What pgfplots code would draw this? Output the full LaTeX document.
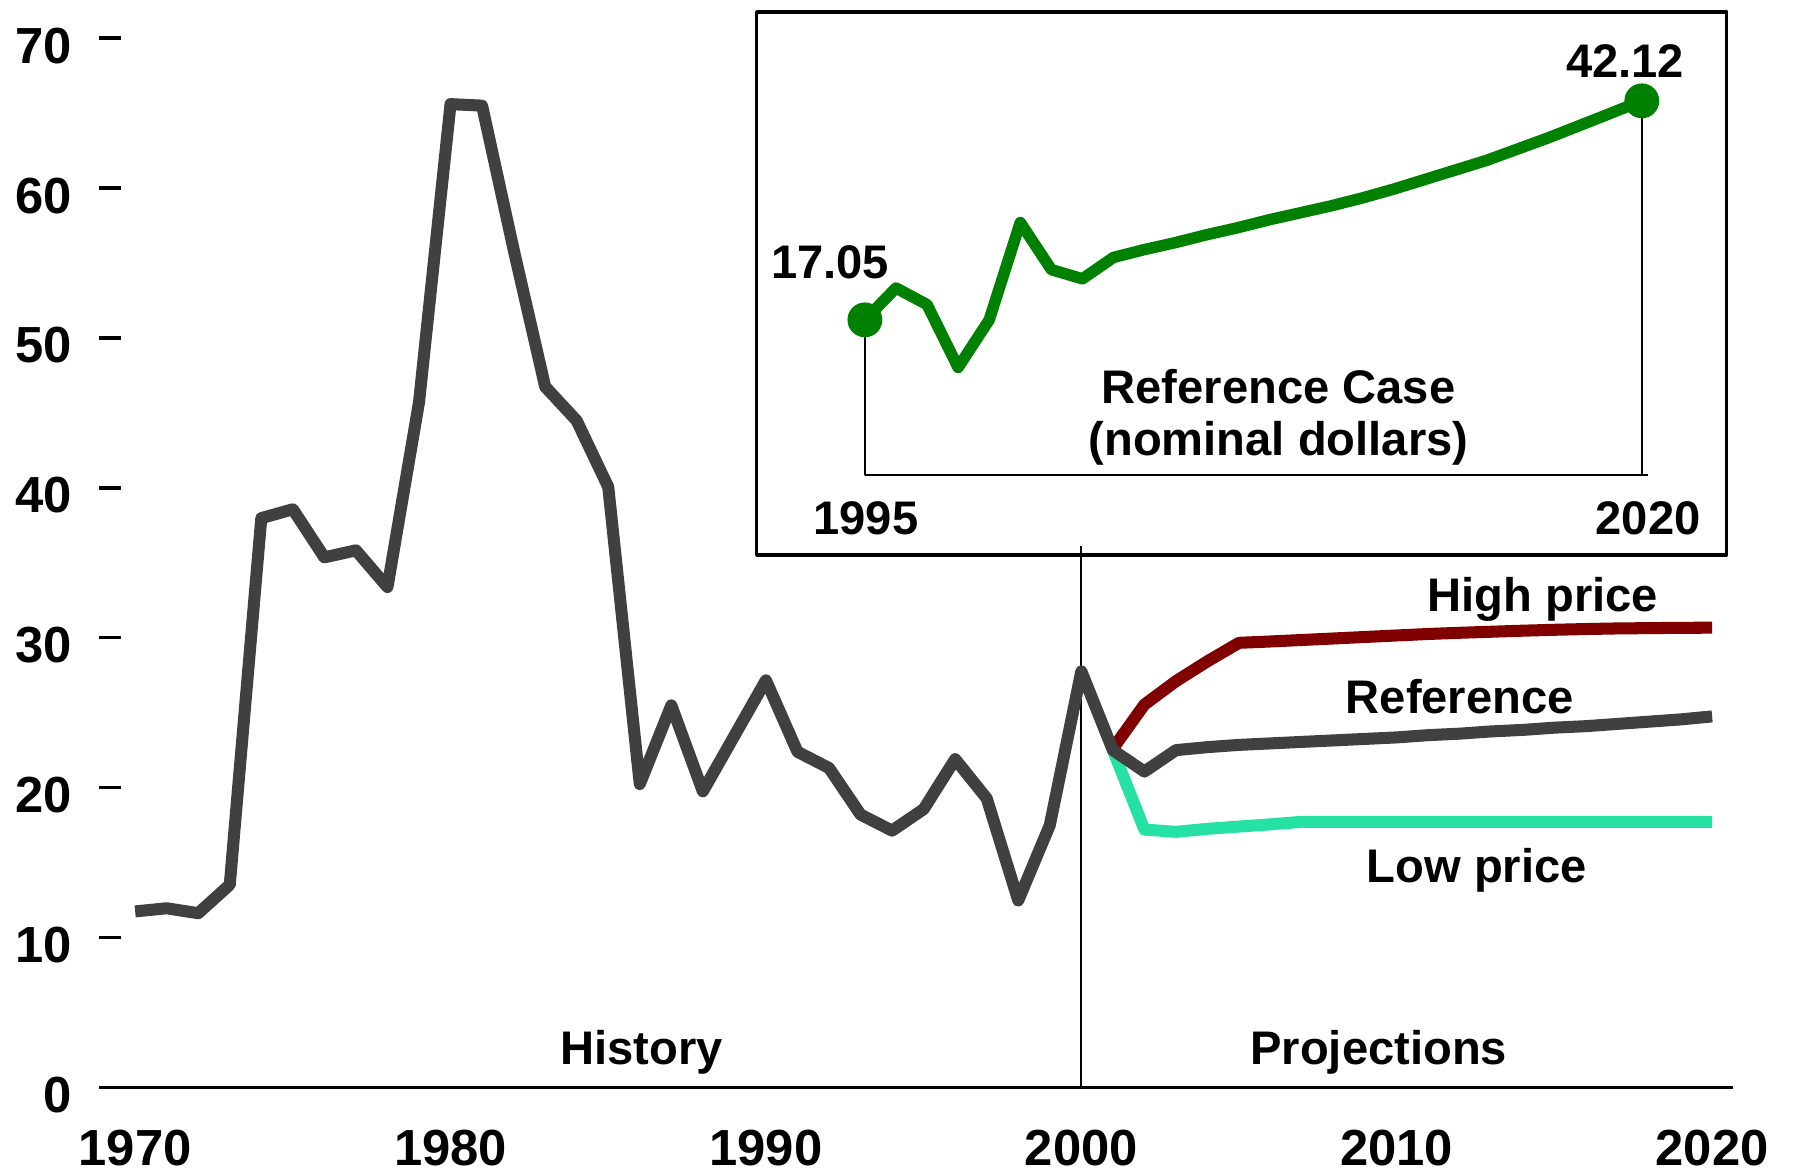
\documentclass[border=0pt]{standalone}
\usepackage{fontspec}
\setmainfont{Liberation Sans}
\usepackage{pgfplots}
\pgfplotsset{compat=1.18}

\definecolor{histgray}{HTML}{404040}
\definecolor{highred}{HTML}{800000}
\definecolor{lowgreen}{HTML}{25E2A4}
\definecolor{refgreen}{HTML}{008000}

\newcommand{\ticksize}{\fontsize{12.6}{14}\selectfont\bfseries}
\newcommand{\notesize}{\fontsize{11.7}{14}\selectfont\bfseries}

\begin{document}
\begin{tikzpicture}
\path[use as bounding box] (-8.6mm,-7.22mm) rectangle (148.2mm,94.88mm);
% main chart
\begin{axis}[
    at={(0,0)}, anchor=south west,
    width=142.58mm, height=91.55mm, scale only axis,
    xmin=1968.84, xmax=2020.65, ymin=0, ymax=70,
    axis x line*=bottom, axis y line*=left,
    x axis line style={-, line width=0.3mm},
    y axis line style={draw=none},
    xtick={1970,1980,...,2020}, ytick={0,10,...,70},
    xtick style={draw=none},
    ytick style={line width=0.3mm, black},
    major tick length=2mm, tick align=inside,
    tick label style={font=\ticksize, inner sep=0pt},
    /pgf/number format/assume math mode=true,
    /pgf/number format/1000 sep={},
    xticklabel style={anchor=base, yshift=-6.82mm},
    yticklabel style={anchor=base east, xshift=-2.26mm, yshift=-2.18mm},
    clip=false,
    line join=round,
]
% divider between history and projections
\addplot[black, line width=0.2mm] coordinates {(2000,0) (2000,36.1)};
% high price
\addplot[highred, line width=1.05mm] coordinates {
    (2001,22.6) (2002,25.54) (2003,27.1) (2004,28.43) (2005,29.66)
    (2006,29.75) (2007,29.85) (2008,29.95) (2009,30.05) (2010,30.15)
    (2011,30.25) (2012,30.33) (2013,30.4) (2014,30.47) (2015,30.53)
    (2016,30.58) (2017,30.62) (2018,30.64) (2019,30.66) (2020,30.67)
};
% low price
\addplot[lowgreen, line width=1.05mm] coordinates {
    (2001,22.5) (2002,17.2) (2003,17.05) (2004,17.25) (2005,17.4)
    (2006,17.55) (2007,17.72) (2008,17.72) (2010,17.72) (2015,17.72)
    (2020,17.72)
};
% history + reference case
\addplot[histgray, line width=1.05mm] coordinates {
    (1970,11.74) (1971,11.95) (1972,11.62) (1973,13.52) (1974,37.98)
    (1975,38.57) (1976,35.36) (1977,35.83) (1978,33.38) (1979,45.7)
    (1980,65.6) (1981,65.5) (1982,55.9) (1983,46.75) (1984,44.48)
    (1985,40.06) (1986,20.23) (1987,25.49) (1988,19.75) (1989,23.46)
    (1990,27.16) (1991,22.39) (1992,21.31) (1993,18.2) (1994,17.13)
    (1995,18.56) (1996,21.9) (1997,19.28) (1998,12.47) (1999,17.49)
    (2000,27.76) (2001,22.5) (2002,21.07) (2003,22.5) (2004,22.7)
    (2005,22.85) (2006,22.95) (2007,23.05) (2008,23.15) (2009,23.25)
    (2010,23.35) (2011,23.5) (2012,23.6) (2013,23.75) (2014,23.85)
    (2015,24.0) (2016,24.1) (2017,24.25) (2018,24.4) (2019,24.55)
    (2020,24.75)
};
\node[anchor=base, font=\notesize] at (axis cs:1986.06,1.53) {History};
\node[anchor=base, font=\notesize] at (axis cs:2009.43,1.53) {Projections};
\node[anchor=base, font=\notesize] at (axis cs:2014.63,31.77) {High price};
\node[anchor=base, font=\notesize] at (axis cs:2012.0,24.97) {Reference};
\node[anchor=base, font=\notesize] at (axis cs:2012.54,13.7) {Low price};
\end{axis}
% inset: reference case in nominal dollars
\begin{axis}[
    at={(57.43mm,46.47mm)}, anchor=south west,
    width=84.63mm, height=47.38mm, scale only axis,
    xmin=1991.52, xmax=2022.73, ymin=-9.84, ymax=52.31,
    axis line style={line width=0.3mm},
    xtick=\empty, ytick=\empty,
    clip=false,
    line join=round,
]
\addplot[black, line width=0.2mm] coordinates {(1995,17.05) (1995,-0.7) (2020.2,-0.7)};
\addplot[black, line width=0.2mm] coordinates {(2020,-0.7) (2020,42.12)};
\addplot[refgreen, line width=1.0mm] coordinates {
    (1995,17.05) (1996,20.7) (1997,18.8) (1998,11.6) (1999,17.05)
    (2000,28.2) (2001,22.8) (2002,21.75) (2003,24.2) (2004,25.1)
    (2005,25.9) (2006,26.8) (2007,27.6) (2008,28.5) (2009,29.3)
    (2010,30.1) (2011,31.0) (2012,32.0) (2013,33.1) (2014,34.2)
    (2015,35.3) (2016,36.6) (2017,37.9) (2018,39.3) (2019,40.7)
    (2020,42.12)
};
\addplot[only marks, mark=*, mark size=1.45mm, refgreen] coordinates {(1995,17.05) (2020,42.12)};
\node[anchor=base, font=\notesize] at (axis cs:1993.88,21.75) {17.05};
\node[anchor=base, font=\notesize] at (axis cs:2019.46,44.82) {42.12};
\node[anchor=base, font=\notesize] at (axis cs:1995.03,-7.48) {1995};
\node[anchor=base, font=\notesize] at (axis cs:2020.2,-7.48) {2020};
\node[anchor=base, font=\notesize] at (axis cs:2008.31,7.49) {Reference Case};
\node[anchor=base, font=\notesize] at (axis cs:2008.31,1.58) {(nominal dollars)};
\end{axis}
\end{tikzpicture}
\end{document}
